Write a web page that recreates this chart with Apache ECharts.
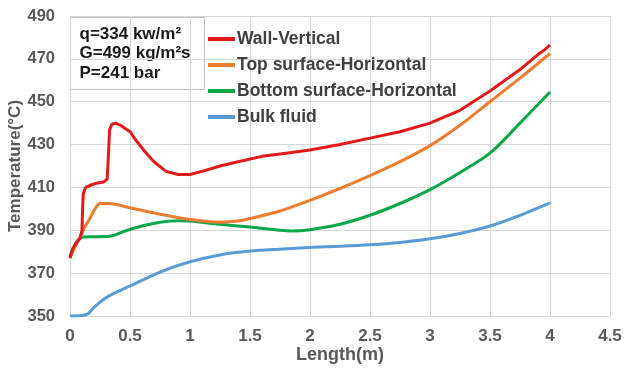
<!DOCTYPE html>
<html>
<head>
<meta charset="utf-8">
<script src="https://cdn.jsdelivr.net/npm/echarts@6/dist/echarts.min.js"></script>
<style>html,body{margin:0;padding:0;background:#fff}#c{width:625px;height:374px}</style>
</head>
<body>
<div id="c"></div>
<script>
const seriesNames = ['Wall-Vertical', 'Top surface-Horizontal', 'Bottom surface-Horizontal', 'Bulk fluid'];
const wallX = [0,0.02,0.05,0.08,0.1,0.105,0.11,0.13,0.17,0.22,0.28,0.31,0.32,0.33,0.35,0.38,0.42,0.5,0.55,0.62,0.7,0.8,0.9,1.0,1.1,1.25,1.4,1.6,1.8,2.0,2.25,2.5,2.75,3.0,3.25,3.5,3.75,3.9,3.95,4.0];
const wallY = [377,381,384,386,390,400,407,410,411,412,412.5,414,425,437,439.5,440,439,436,432,427,422,417.5,416,416,417.5,420,422,424.5,426,427.5,430,433,436,440,446,455,465,472,474,476.5];
const topX = [0,0.03,0.08,0.12,0.17,0.22,0.25,0.33,0.5,0.75,1.0,1.25,1.4,1.5,1.75,2.0,2.25,2.5,2.75,3.0,3.25,3.5,3.75,4.0];
const topY = [377,381,386,391,396,401,402.5,402.5,400.5,397.5,395,393.8,394.3,395.5,399,404,409.5,415.5,422,429.5,439,450,461,472.5];
const botX = [0,0.03,0.06,0.1,0.2,0.33,0.45,0.6,0.75,0.9,1.0,1.25,1.5,1.75,1.85,2.0,2.25,2.5,2.75,3.0,3.25,3.5,3.75,4.0];
const botY = [378,382,385,386.8,387,387.2,389.5,392,393.8,394.5,394.3,392.8,391.5,390,389.7,390.3,392.8,397,402.5,409,417,426,440,454.5];
const bulkX = [0,0.1,0.15,0.2,0.3,0.4,0.5,0.75,1.0,1.25,1.5,1.75,2.0,2.25,2.5,2.75,3.0,3.25,3.5,3.75,4.0];
const bulkY = [350,350.2,351,354,358.5,361.5,364,370.5,375.3,378.5,380.3,381.2,382,382.5,383.2,384.3,386,388.5,392,397,402.8];
const annotationLines = ['q=334 kw/m²', 'G=499 kg/m²s', 'P=241 bar'];
const xTicks = [0,0.5,1,1.5,2,2.5,3,3.5,4,4.5];
const yTicks = [350,370,390,410,430,450,470,490];

const colors = ['#e31a1c', '#ed7d31', '#0aa84a', '#5b9bd5'];
const pairs = (xs, ys) => xs.map((x, i) => [x, ys[i]]);
const data = [pairs(wallX, wallY), pairs(topX, topY), pairs(botX, botY), pairs(bulkX, bulkY)];
const font = 'Liberation Sans, Arial, sans-serif';

const chart = echarts.init(document.getElementById('c'));
chart.setOption({
  animation: false,
  backgroundColor: '#fff',
  grid: {left: 70, right: 15, top: 16, bottom: 58, containLabel: false, outerBoundsMode: 'none'},
  xAxis: {
    type: 'value', min: 0, max: 4.5, interval: 0.5,
    name: 'Length(m)', nameLocation: 'middle', nameGap: 30, nameMoveOverlap: false,
    nameTextStyle: {fontFamily: font, fontWeight: 'bold', fontSize: 18, color: '#595959'},
    axisLine: {show: true, lineStyle: {color: '#d9d9d9'}},
    axisTick: {show: false},
    axisLabel: {fontFamily: font, fontWeight: 'bold', fontSize: 17, color: '#595959', margin: 12,
      formatter: v => String(v)},
    splitLine: {show: true, lineStyle: {color: '#d9d9d9'}}
  },
  yAxis: {
    type: 'value', min: 350, max: 490, interval: 20,
    name: 'Temperature(°C)', nameLocation: 'middle', nameGap: 46, nameMoveOverlap: false,
    nameTextStyle: {fontFamily: font, fontWeight: 'bold', fontSize: 17, color: '#595959'},
    axisLine: {show: true, lineStyle: {color: '#d9d9d9'}},
    axisTick: {show: false},
    axisLabel: {fontFamily: font, fontWeight: 'bold', fontSize: 16.5, color: '#595959', margin: 15},
    splitLine: {show: true, lineStyle: {color: '#d9d9d9'}}
  },
  legend: {
    orient: 'vertical', left: 203, top: 25,
    itemWidth: 27, itemHeight: 4, itemGap: 8,
    icon: 'rect',
    data: seriesNames,
    textStyle: {fontFamily: font, fontWeight: 'bold', fontSize: 17.5, color: '#404040', lineHeight: 18, padding: [0,0,0,-3]}
  },
  graphic: [{
    type: 'group', left: 70, top: 17,
    children: [
      {type: 'rect', shape: {x: 0, y: 0, width: 134, height: 72}, style: {fill: '#fff', stroke: '#bfbfbf', lineWidth: 1}},
      {type: 'text', x: 9, y: 7, style: {text: annotationLines.join('\n'), font: 'bold 17px ' + font, fill: '#1a1a1a', lineHeight: 19.5}}
    ]
  }],
  series: data.map((d, i) => ({
    name: seriesNames[i], type: 'line', data: d,
    showSymbol: false, symbol: 'none',
    smooth: i === 0 ? false : 0.3,
    lineStyle: {width: 3, color: colors[i]},
    itemStyle: {color: colors[i]},
    z: 10 - i
  }))
});
</script>
</body>
</html>
